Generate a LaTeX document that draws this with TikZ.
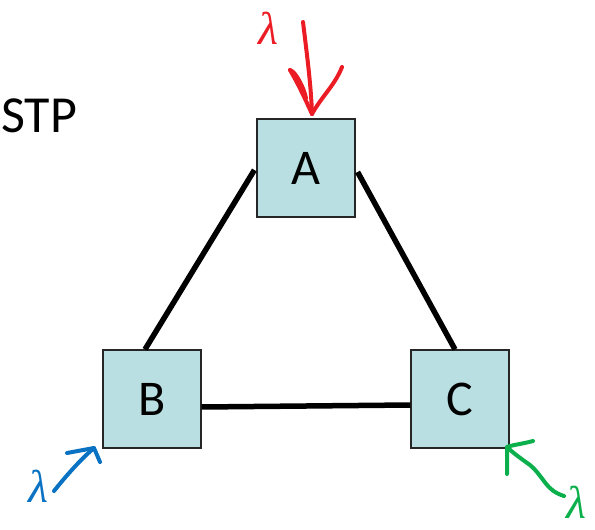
\documentclass[tikz,border=0pt]{standalone}
\usepackage{fontspec}
\setmainfont{Carlito}
\newfontfamily\lamfont{Liberation Serif}
\definecolor{boxfill}{HTML}{B9DFE2}
\definecolor{inkred}{HTML}{EC1C24}
\definecolor{inkblue}{HTML}{0A72C2}
\definecolor{inkgreen}{HTML}{0BB04C}
\begin{document}
\begin{tikzpicture}[x=1pt,y=-1pt,
  nodebox/.style={draw=black!85,line width=1.2pt,fill=boxfill,minimum size=98pt,inner sep=0pt,font=\fontsize{50}{50}\selectfont},
  edge/.style={line width=5.5pt},
  ink/.style={line width=4pt,line cap=round,line join=round},
  lam/.style={font=\lamfont\itshape\fontsize{46}{46}\selectfont,inner sep=0pt}]
\useasboundingbox (0,0) rectangle (595,530);
\node[anchor=west,inner sep=0pt,font=\fontsize{52}{52}\selectfont] (stp) at (1,116) {STP};
\node[nodebox] (A) at (306,168) {A};
\node[nodebox] (B) at (152,399) {B};
\node[nodebox] (C) at (460,399) {C};
\draw[edge] ([xshift=-2pt,yshift=-2pt]A.west) -- ([xshift=-7pt]B.north);
\draw[edge] ([xshift=2pt,yshift=-4pt]A.east) -- ([xshift=-5pt]C.north);
\draw[edge] ([yshift=-8pt]B.east) -- ([yshift=-6pt]C.west);
% red
\node[lam,text=inkred] (lr) at (268,28) {λ};
\coordinate (rt) at (312,114);
\draw[ink,inkred] (303,22) .. controls (307,55) and (311,85) .. (rt);
\draw[ink,inkred] (290,70) .. controls (296,80) and (302,92) .. (rt);
\draw[ink,inkred] (290,70) .. controls (296,72) and (304,88) .. (306,98);
\draw[ink,inkred] (342,67) .. controls (335,85) and (322,96) .. (rt);
% blue
\node[lam,text=inkblue] (lb) at (38,486) {λ};
\coordinate (bt) at (94,448);
\draw[ink,inkblue] (54,491) .. controls (66,476) and (80,460) .. (bt);
\draw[ink,inkblue] (67,453) -- (bt) -- (100,462);
% green
\node[lam,text=inkgreen] (lg) at (576,502) {λ};
\coordinate (gt) at (507,447);
\draw[ink,inkgreen] (564,496) .. controls (545,490) and (545,478) .. (530,465) .. controls (520,458) and (512,452) .. (gt);
\draw[ink,inkgreen] (533,441) .. controls (522,444) and (512,445) .. (gt) -- (507,474);
\end{tikzpicture}
\end{document}
